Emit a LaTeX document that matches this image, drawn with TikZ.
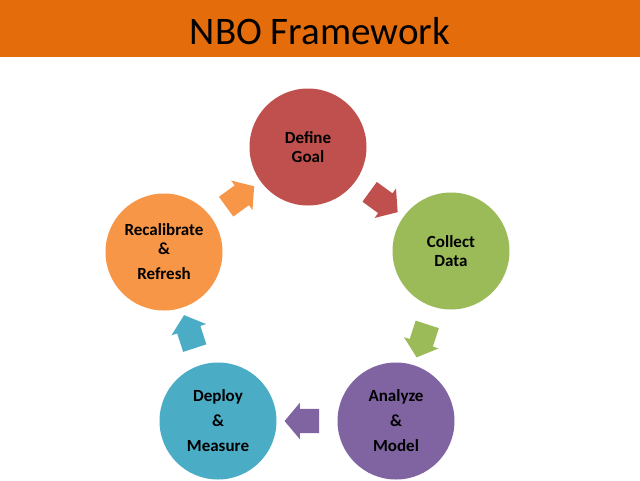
\documentclass[tikz,border=0pt]{standalone}
\usepackage{fontspec}
\setmainfont{Carlito}
\usetikzlibrary{shapes.arrows,calc}
\definecolor{barorange}{HTML}{E46C0A}
\definecolor{cred}{HTML}{C0504D}
\definecolor{cgreen}{HTML}{9BBB59}
\definecolor{cpurple}{HTML}{8064A2}
\definecolor{cblue}{HTML}{4BACC6}
\definecolor{corange}{HTML}{F79646}
\begin{document}
\begin{tikzpicture}[x=1pt,y=-1pt,
  stage/.style={circle,minimum size=117pt,inner sep=0pt,align=center,
    font=\fontsize{17}{19}\selectfont\bfseries,text=black},
  flow/.style={single arrow,draw=none,minimum height=30pt,minimum width=36pt,
    inner sep=12pt,single arrow head extend=6pt,single arrow tip angle=100}]
\useasboundingbox (0,0) rectangle (640,480);
\fill[white] (0,0) rectangle (640,480);
\fill[barorange] (0,0) rectangle (640,57);
\node[font=\fontsize{39}{44}\selectfont,text=black] (title) at (320,31) {NBO Framework};
\node[stage,fill=cred] (goal) at (308,147) {Define\\Goal};
\node[stage,fill=cgreen] (data) at (451,251) {Collect\\Data};
\node[stage,fill=cpurple] (model) at (396,421) {Analyze\\[6pt]\&\\[6pt]Model};
\node[stage,fill=cblue] (deploy) at (218,421) {Deploy\\[6pt]\&\\[6pt]Measure};
\node[stage,fill=corange] (recal) at (164,252) {Recalibrate\\\&\\[6pt]Refresh};
\node[flow,fill=cred,rotate=-36] (a1) at ($(goal)!0.5!(data)$) {};
\node[flow,fill=cgreen,rotate=-108] (a2) at ($(data)!0.5!(model)$) {};
\node[flow,fill=cpurple,rotate=180] (a3) at ($(model)!0.5!(deploy)$) {};
\node[flow,fill=cblue,rotate=108] (a4) at ($(deploy)!0.5!(recal)$) {};
\node[flow,fill=corange,rotate=36] (a5) at ($(recal)!0.5!(goal)$) {};
\end{tikzpicture}
\end{document}
